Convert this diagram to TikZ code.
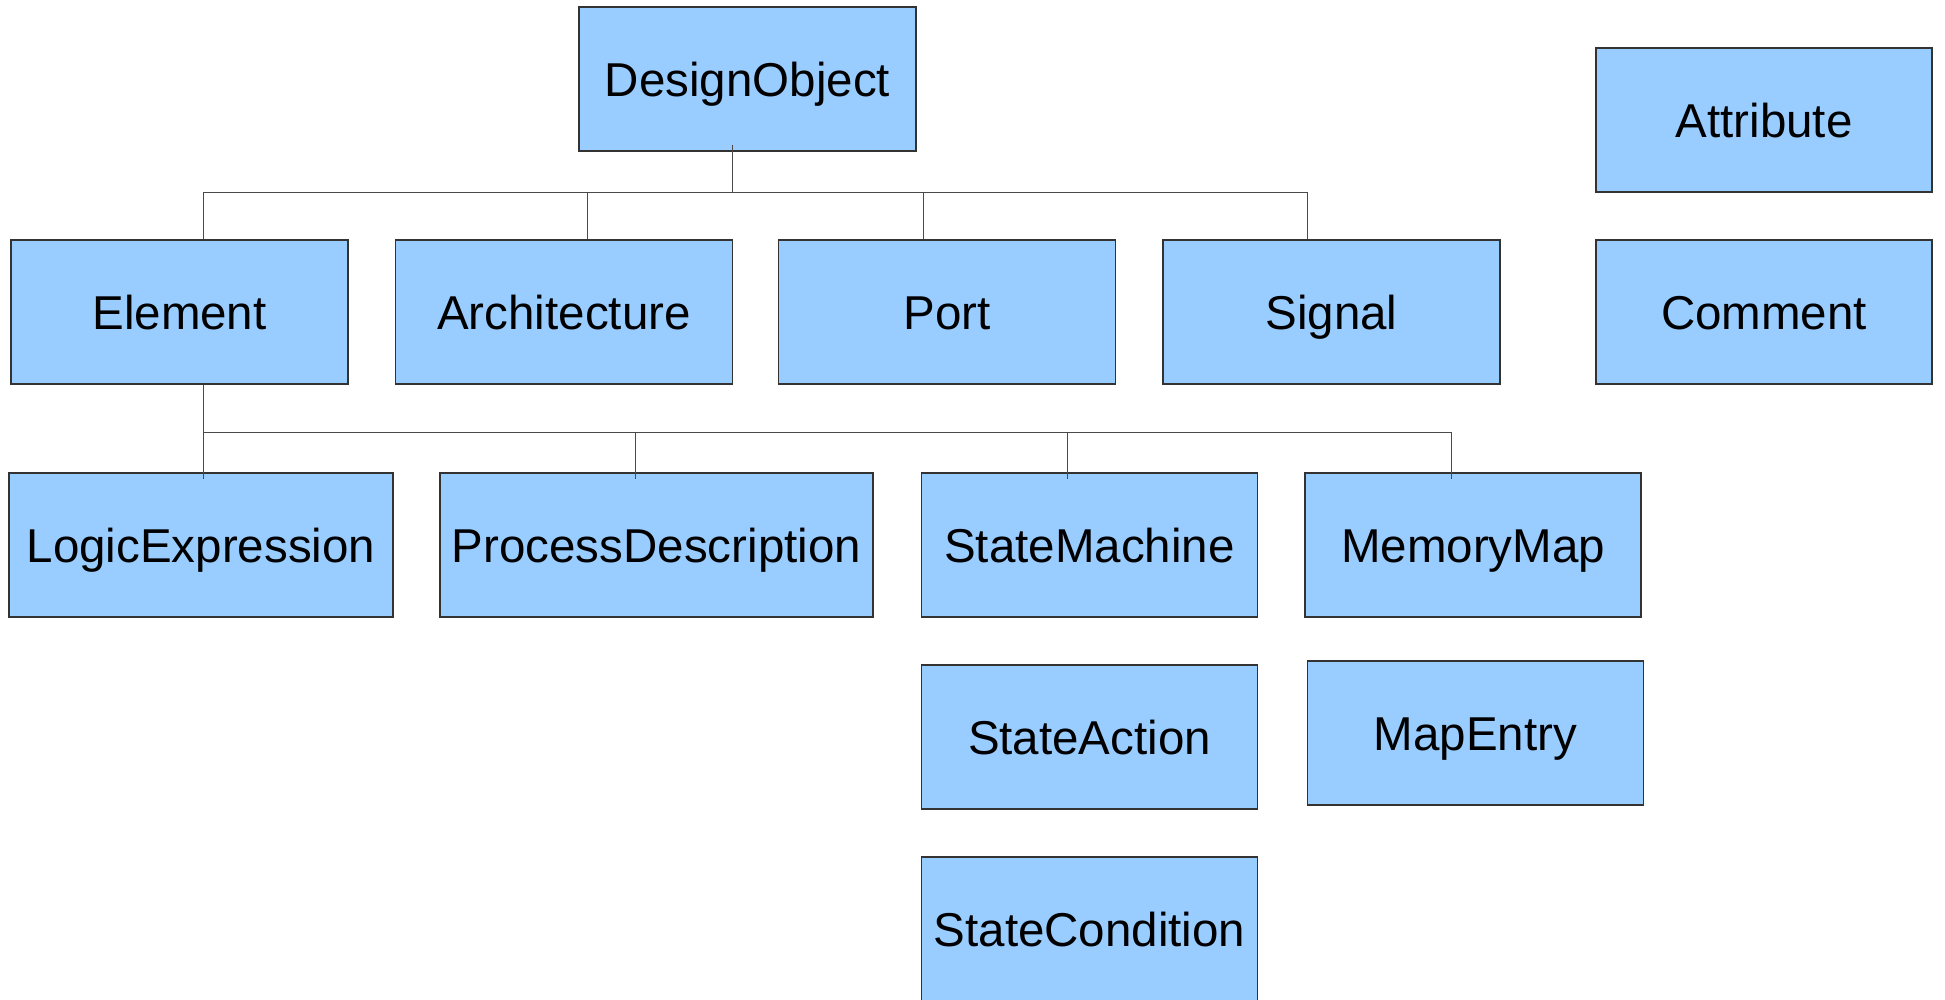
\documentclass[tikz,border=0pt]{standalone}
\usepackage{fontspec}
\setmainfont{Liberation Sans}
\definecolor{boxblue}{HTML}{99CCFF}
\definecolor{boxline}{HTML}{333333}
\definecolor{connline}{HTML}{4A4A4A}
\begin{document}
\begin{tikzpicture}[x=1pt,y=-1pt,
  cls/.style={draw=boxline, line width=1.1pt, fill=boxblue, rectangle, inner sep=0pt,
    minimum height=144pt, text height=34pt, text depth=0pt,
    font=\fontsize{47.5pt}{57pt}\selectfont},
  conn/.style={draw=connline, line width=1pt}]
\path[use as bounding box, fill=white] (0,0) rectangle (1945,999);
\begin{scope}
\clip (0,0) rectangle (1945,999);
% row 1
\node[cls, minimum width=337pt] (DO) at (747.5,79) {DesignObject};
\node[cls, minimum width=336pt] (Attr) at (1764,120) {Attribute};
% row 2
\node[cls, minimum width=337pt] (El) at (179.5,312) {Element};
\node[cls, minimum width=337pt] (Arch) at (564,312) {Architecture};
\node[cls, minimum width=337pt] (Port) at (947,312) {Port};
\node[cls, minimum width=337pt] (Sig) at (1331.5,312) {Signal};
\node[cls, minimum width=336pt] (Com) at (1764,312) {Comment};
% row 3
\node[cls, minimum width=384pt] (LE) at (201,545) {LogicExpression};
\node[cls, minimum width=433pt] (PD) at (656.5,545) {ProcessDescription};
\node[cls, minimum width=336pt] (SM) at (1089.5,545) {StateMachine};
\node[cls, minimum width=336pt] (MM) at (1473,545) {MemoryMap};
% row 4
\node[cls, minimum width=336pt] (SA) at (1089.5,737) {StateAction};
\node[cls, minimum width=336pt] (ME) at (1475.5,733) {MapEntry};
% row 5 (runs off the bottom edge)
\node[cls, overlay, minimum width=336pt] (SC) at (1089.5,929) {StateCondition};
% bus levels
\coordinate (bus1) at (0,192.5);
\coordinate (bus2) at (0,432);
% connectors level 1
\draw[conn] ([xshift=-15.5pt,yshift=7pt]DO.south) -- ([xshift=-15.5pt]DO.south |- bus1);
\draw[conn] ([xshift=23.5pt]El.north) -- ([xshift=23.5pt]El.north |- bus1)
  -- ([xshift=-24pt]Sig.north |- bus1) -- ([xshift=-24pt]Sig.north);
\draw[conn] ([xshift=23pt]Arch.north) -- ([xshift=23pt]Arch.north |- bus1);
\draw[conn] ([xshift=-24pt]Port.north) -- ([xshift=-24pt]Port.north |- bus1);
% connectors level 2
\draw[conn] ([xshift=23.5pt]El.south) -- ([xshift=23.5pt,yshift=-7pt]El.south |- LE.north);
\draw[conn] ([xshift=23.5pt]El.south |- bus2) -- ([xshift=-21.5pt]MM.north |- bus2)
  -- ([xshift=-21.5pt,yshift=-7pt]MM.north);
\draw[conn] ([xshift=-21pt]PD.north |- bus2) -- ([xshift=-21pt,yshift=-7pt]PD.north);
\draw[conn] ([xshift=-22pt]SM.north |- bus2) -- ([xshift=-22pt,yshift=-7pt]SM.north);
\end{scope}
\end{tikzpicture}
\end{document}
